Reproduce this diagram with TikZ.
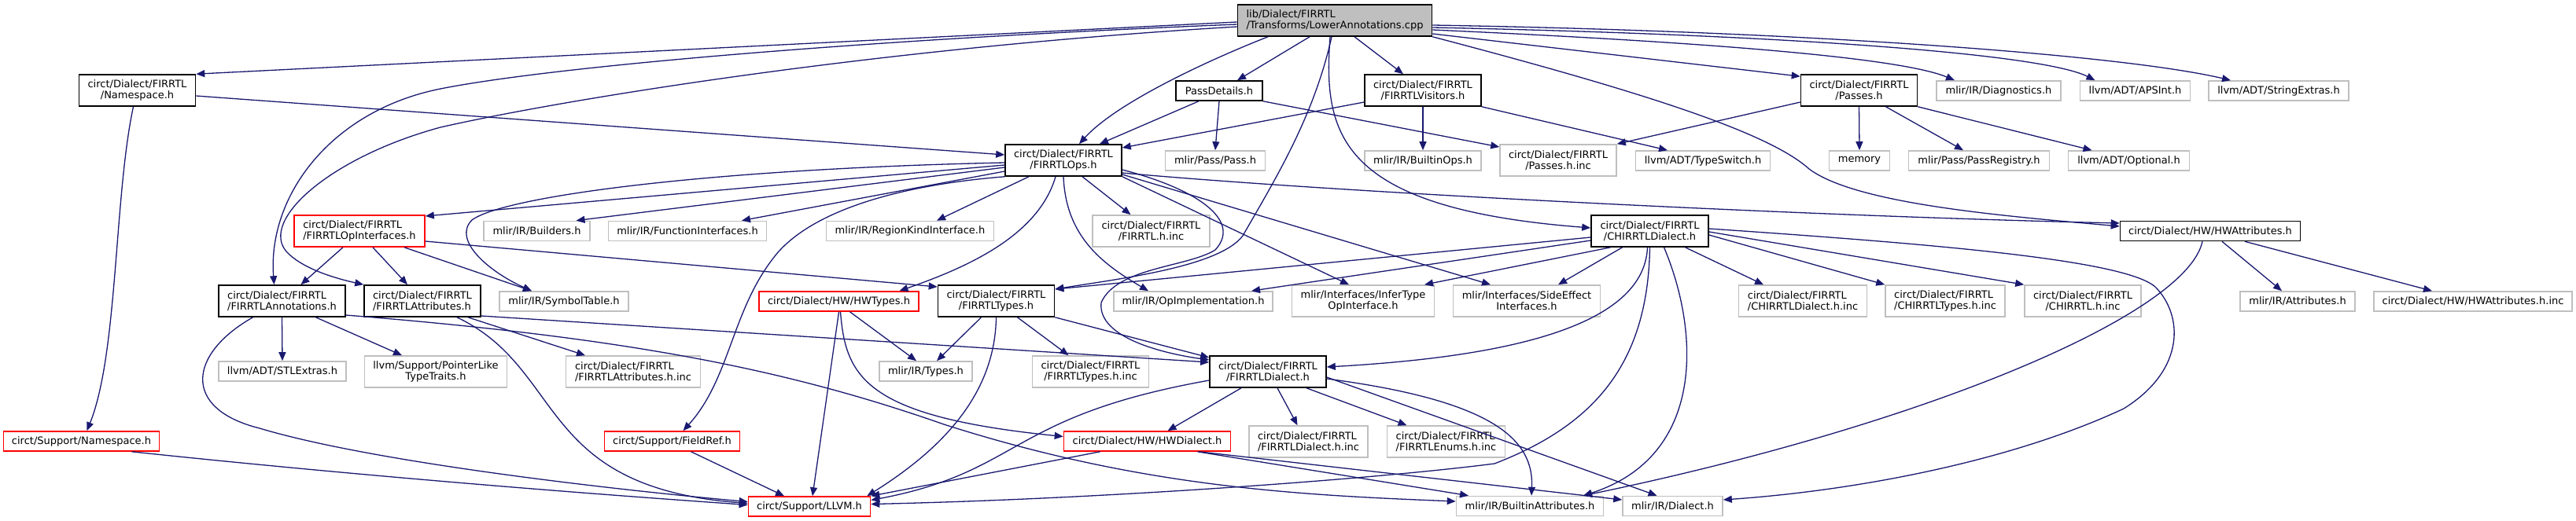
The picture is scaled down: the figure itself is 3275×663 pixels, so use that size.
\documentclass[tikz,border=0pt]{standalone}
\usepackage{fontspec}
\setmainfont{DejaVu Sans}
\usepackage{tikz}
\usetikzlibrary{positioning, arrows.meta, calc}
\usepackage{xcolor}
\definecolor{edgeblue}{HTML}{191970}
\definecolor{extgray}{HTML}{BFBFBF}

\begin{document}
\begin{tikzpicture}[
    x=1pt, y=-1pt,
    hdr/.style={draw=black, line width=1.6pt, fill=white, inner sep=0pt, align=center, font=\fontsize{13}{14}\selectfont},
    srcfile/.style={hdr, fill=extgray},
    trunc/.style={hdr, draw=red},
    ext/.style={hdr, draw=extgray},
    one/.style={minimum height=25pt},
    two/.style={minimum height=40pt},
    dep/.style={draw=edgeblue, line width=1.3pt, -{Triangle[length=11pt,width=9pt]}}
]
\useasboundingbox (0,0) rectangle (3275,663);

% Nodes
\node[srcfile, two, minimum width=247pt, align=left] (main) at (1697,26) {lib/Dialect/FIRRTL\\/Transforms/LowerAnnotations.cpp};

\node[hdr, two, minimum width=148pt] (nsF) at (174.5,115) {circt/Dialect/FIRRTL\\/Namespace.h};
\node[hdr, one, minimum width=110pt] (passDet) at (1550,115.5) {PassDetails.h};
\node[hdr, two, minimum width=148pt] (visit) at (1809,115) {circt/Dialect/FIRRTL\\/FIRRTLVisitors.h};
\node[hdr, two, minimum width=148pt] (passes) at (2363.5,115) {circt/Dialect/FIRRTL\\/Passes.h};
\node[ext, one, minimum width=158pt] (diag) at (2541,115.5) {mlir/IR/Diagnostics.h};
\node[ext, one, minimum width=140pt] (apsint) at (2714.5,115.5) {llvm/ADT/APSInt.h};
\node[ext, one, minimum width=178pt] (strext) at (2897,115.5) {llvm/ADT/StringExtras.h};

\node[hdr, two, minimum width=148pt] (ops) at (1352,204) {circt/Dialect/FIRRTL\\/FIRRTLOps.h};
\node[ext, one, minimum width=127pt] (pass) at (1545,204.5) {mlir/Pass/Pass.h};
\node[ext, one, minimum width=148pt] (bops) at (1809,204.5) {mlir/IR/BuiltinOps.h};
\node[ext, two, minimum width=148pt] (pinc) at (1981,204) {circt/Dialect/FIRRTL\\/Passes.h.inc};
\node[ext, one, minimum width=171pt] (tsw) at (2165,204.5) {llvm/ADT/TypeSwitch.h};
\node[ext, one, minimum width=77pt] (memory) at (2364,204.5) {memory};
\node[ext, one, minimum width=179pt] (preg) at (2516,204.5) {mlir/Pass/PassRegistry.h};
\node[ext, one, minimum width=154pt] (optional) at (2706.5,204.5) {llvm/ADT/Optional.h};

\node[trunc, two, minimum width=166pt, align=left] (opif) at (457,294) {circt/Dialect/FIRRTL\\/FIRRTLOpInterfaces.h};
\node[ext, one, minimum width=135pt] (builders) at (682.5,294) {mlir/IR/Builders.h};
\node[ext, one, minimum width=201pt] (funcif) at (874,294) {mlir/IR/FunctionInterfaces.h};
\node[ext, one, minimum width=213pt] (regk) at (1157,294) {mlir/IR/RegionKindInterface.h};
\node[ext, two, minimum width=149pt] (finc) at (1463.5,294) {circt/Dialect/FIRRTL\\/FIRRTL.h.inc};
\node[hdr, two, minimum width=149pt] (chir) at (2097.5,294) {circt/Dialect/FIRRTL\\/CHIRRTLDialect.h};
\node[hdr, one, minimum width=229pt] (hwattr) at (2810,294) {circt/Dialect/HW/HWAttributes.h};

\node[hdr, two, minimum width=161pt, align=left] (annot) at (358.5,383) {circt/Dialect/FIRRTL\\/FIRRTLAnnotations.h};
\node[hdr, two, minimum width=148pt, align=left] (attrs) at (537,383) {circt/Dialect/FIRRTL\\/FIRRTLAttributes.h};
\node[ext, one, minimum width=164pt] (symt) at (717,383.5) {mlir/IR/SymbolTable.h};
\node[trunc, one, minimum width=203pt] (hwtypes) at (1066.5,383.5) {circt/Dialect/HW/HWTypes.h};
\node[hdr, two, minimum width=148pt] (types) at (1266.5,383) {circt/Dialect/FIRRTL\\/FIRRTLTypes.h};
\node[ext, one, minimum width=202pt] (opimpl) at (1517,383.5) {mlir/IR/OpImplementation.h};
\node[ext, two, minimum width=181pt] (infer) at (1733,383) {mlir/Interfaces/InferType\\OpInterface.h};
\node[ext, two, minimum width=187pt] (sidee) at (1941,383) {mlir/Interfaces/SideEffect\\Interfaces.h};
\node[ext, two, minimum width=163pt, align=left] (chdinc) at (2292,383) {circt/Dialect/FIRRTL\\/CHIRRTLDialect.h.inc};
\node[ext, two, minimum width=152pt, align=left] (chtinc) at (2473,383) {circt/Dialect/FIRRTL\\/CHIRRTLTypes.h.inc};
\node[ext, two, minimum width=148pt] (chinc) at (2648,383) {circt/Dialect/FIRRTL\\/CHIRRTL.h.inc};
\node[ext, one, minimum width=146pt] (attributes) at (2921,383.5) {mlir/IR/Attributes.h};
\node[ext, one, minimum width=252pt] (hwainc) at (3144,383.5) {circt/Dialect/HW/HWAttributes.h.inc};

\node[ext, one, minimum width=162pt] (stl) at (359,472.5) {llvm/ADT/STLExtras.h};
\node[ext, two, minimum width=181pt] (ptr) at (554,473) {llvm/Support/PointerLike\\TypeTraits.h};
\node[ext, two, minimum width=171pt, align=left] (ainc) at (805,473) {circt/Dialect/FIRRTL\\/FIRRTLAttributes.h.inc};
\node[ext, one, minimum width=118pt] (mtypes) at (1177,472.5) {mlir/IR/Types.h};
\node[ext, two, minimum width=148pt] (tinc) at (1386.5,473) {circt/Dialect/FIRRTL\\/FIRRTLTypes.h.inc};
\node[hdr, two, minimum width=148pt] (dial) at (1612,473) {circt/Dialect/FIRRTL\\/FIRRTLDialect.h};

\node[trunc, one, minimum width=198pt] (supns) at (103.5,561.5) {circt/Support/Namespace.h};
\node[trunc, one, minimum width=172pt] (fref) at (854.5,561.5) {circt/Support/FieldRef.h};
\node[trunc, one, minimum width=212pt] (hwdial) at (1458.5,561.5) {circt/Dialect/HW/HWDialect.h};
\node[ext, two, minimum width=151pt, align=left] (dinc) at (1663.5,562) {circt/Dialect/FIRRTL\\/FIRRTLDialect.h.inc};
\node[ext, two, minimum width=150pt, align=left] (einc) at (1838.5,562) {circt/Dialect/FIRRTL\\/FIRRTLEnums.h.inc};

\node[trunc, one, minimum width=155pt] (llvm) at (1029,644.5) {circt/Support/LLVM.h};
\node[ext, one, minimum width=187pt] (battr) at (1945,644) {mlir/IR/BuiltinAttributes.h};
\node[ext, one, minimum width=127pt] (mdial) at (2126.5,644) {mlir/IR/Dialect.h};

% Edges from the source file
\draw[dep] ([yshift=-2]main.west) -- (nsF.north east);
\draw[dep] ([yshift=-5]main.west) .. controls (1100,50) and (700,85) .. (560,113) .. controls (420,141) and (340,250) .. ([xshift=-10]annot.north);
\draw[dep] ([yshift=-8]main.west) .. controls (1100,62) and (700,130) .. (560,162) .. controls (420,200) and (330,280) .. (364,320) .. controls (385,343) and (430,355) .. (attrs.north west);
\draw[dep] ([xshift=-85]main.south) .. controls (1540,75) and (1420,130) .. ([xshift=20]ops.north);
\draw[dep] ([xshift=-32]main.south) -- ([xshift=23]passDet.north);
\draw[dep] ([xshift=25]main.south) -- ([xshift=-25]visit.north);
\draw[dep] ([xshift=-6]main.south) .. controls (1682,170) and (1700,265) .. ([yshift=4]chir.west);
\draw[dep] ([xshift=-4]main.south) .. controls (1670,150) and (1620,230) .. (1580,300) .. controls (1550,340) and (1420,355) .. ([yshift=15]types.east);
\draw[dep] ([yshift=-17]main.east) -- ([yshift=-3]passes.north west);
\draw[dep] ([yshift=-12]main.east) .. controls (2200,55) and (2420,75) .. ([xshift=-56]diag.north);
\draw[dep] ([yshift=-9]main.east) .. controls (2300,45) and (2600,70) .. ([xshift=-51]apsint.north);
\draw[dep] ([yshift=-6]main.east) .. controls (2300,40) and (2700,70) .. ([xshift=-61]strext.north);
\draw[dep] (main.south east) .. controls (2100,120) and (2250,170) .. (2300,215) .. controls (2360,260) and (2550,275) .. ([yshift=6]hwattr.west);

% Second row
\draw[dep] ([yshift=-7]nsF.east) -- ([yshift=7]ops.west);
\draw[dep] ([xshift=-5]nsF.south) .. controls (145,250) and (150,450) .. ([xshift=7]supns.north);
\draw[dep] ([xshift=-26]passDet.south) -- ([xshift=46]ops.north);
\draw[dep] (passDet.south) -- (pass.north);
\draw[dep] (passDet.south east) -- ([yshift=17]pinc.west);
\draw[dep] ([yshift=-15]visit.west) -- ([yshift=16]ops.east);
\draw[dep] (visit.south) -- (bops.north);
\draw[dep] (visit.south east) -- ([xshift=-45]tsw.north);
\draw[dep] ([yshift=-15]passes.west) -- (pinc.north east);
\draw[dep] (passes.south) -- (memory.north);
\draw[dep] ([xshift=34]passes.south) -- ([xshift=-20]preg.north);
\draw[dep] (passes.south east) -- ([xshift=-47]optional.north);

% FIRRTLOps.h
\draw[dep] ([yshift=-6]ops.west) -- ([yshift=19]opif.east);
\draw[dep] ([yshift=-9]ops.west) -- ([xshift=50]builders.north);
\draw[dep] ([yshift=-14]ops.west) -- ([xshift=69]funcif.north);
\draw[dep] ([yshift=-3]ops.west) .. controls (900,215) and (640,250) .. (600,280) .. controls (575,305) and (620,345) .. ([xshift=-41]symt.north);
\draw[dep] ([xshift=-44]ops.south) -- ([xshift=34]regk.north);
\draw[dep] ([xshift=-10]ops.south) .. controls (1320,300) and (1230,340) .. ([xshift=77]hwtypes.north);
\draw[dep] (ops.south west) .. controls (1150,235) and (1040,265) .. (990,320) .. controls (930,390) and (930,480) .. ([xshift=14]fref.north);
\draw[dep] ([xshift=24]ops.south) -- ([xshift=-26]finc.north);
\draw[dep] (ops.south) .. controls (1355,300) and (1400,335) .. ([xshift=-57]opimpl.north);
\draw[dep] ([yshift=-16]ops.east) .. controls (1700,245) and (2300,275) .. ([yshift=10]hwattr.west);
\draw[dep] ([yshift=-18]ops.east) -- ([xshift=-46]sidee.north);
\draw[dep] (ops.south east) -- ([xshift=-18]infer.north);
\draw[dep] ([yshift=-12]ops.east) .. controls (1520,240) and (1580,280) .. (1545,318) .. controls (1510,340) and (1420,340) .. (1400,385) .. controls (1395,430) and (1480,450) .. ([yshift=15]dial.west);

% FIRRTLOpInterfaces.h
\draw[dep] ([xshift=-21]opif.south) -- ([xshift=24]annot.north);
\draw[dep] ([xshift=17]opif.south) -- ([xshift=-19]attrs.north);
\draw[dep] ([xshift=57]opif.south) -- ([xshift=-41]symt.north);
\draw[dep] ([yshift=-13]opif.east) -- ([yshift=18]types.west);

% FIRRTLAnnotations.h, FIRRTLAttributes.h
\draw[dep] (annot.south) -- (stl.north);
\draw[dep] ([xshift=43]annot.south) -- ([xshift=-43]ptr.north);
\draw[dep] ([xshift=-37]annot.south) .. controls (240,450) and (230,520) .. (330,545) .. controls (480,590) and (800,625) .. ([yshift=6]llvm.west);
\draw[dep] ([yshift=-18]annot.east) .. controls (800,430) and (1000,470) .. (1200,540) .. controls (1450,620) and (1650,630) .. ([yshift=6]battr.west);
\draw[dep] ([xshift=58]attrs.south) -- ([xshift=-61]ainc.north);
\draw[dep] ([xshift=44]attrs.south) .. controls (720,470) and (680,620) .. ([yshift=4]llvm.west);
\draw[dep] ([yshift=-19]attrs.east) -- ([yshift=12]dial.west);

% FIRRTLTypes.h, HWTypes.h
\draw[dep] ([xshift=-19]types.south) -- ([xshift=14]mtypes.north);
\draw[dep] ([xshift=27]types.south) -- ([xshift=-28]tinc.north);
\draw[dep] (types.south east) -- ([yshift=18]dial.west);
\draw[dep] (types.south) .. controls (1265,500) and (1200,570) .. ([xshift=-5]llvm.north east);
\draw[dep] ([xshift=14]hwtypes.south) -- ([xshift=-12]mtypes.north);
\draw[dep] (hwtypes.south) -- ([xshift=4]llvm.north);
\draw[dep] ([xshift=2]hwtypes.south) .. controls (1075,480) and (1100,530) .. ([yshift=6]hwdial.west);

% FIRRTLDialect.h, HWDialect.h
\draw[dep] ([yshift=-11]dial.west) .. controls (1280,530) and (1300,600) .. ([yshift=8]llvm.east);
\draw[dep] ([xshift=-34]dial.south) -- ([xshift=26]hwdial.north);
\draw[dep] ([xshift=12]dial.south) -- ([xshift=-14]dinc.north);
\draw[dep] ([xshift=49]dial.south) -- ([xshift=-50]einc.north);
\draw[dep] ([yshift=-9]dial.east) .. controls (1900,510) and (1950,560) .. ([xshift=2]battr.north);
\draw[dep] ([yshift=-7]dial.east) -- ([xshift=-20]mdial.north);
\draw[dep] ([xshift=-60]hwdial.south) -- (llvm.north east);
\draw[dep] ([xshift=64]hwdial.south) -- ([xshift=-78]battr.north);
\draw[dep] ([xshift=66]hwdial.south) -- ([yshift=8]mdial.west);

% Support headers
\draw[dep] ([xshift=24]fref.south) -- ([xshift=-32]llvm.north);
\draw[dep] ([xshift=64]supns.south) .. controls (500,610) and (800,632) .. ([yshift=2]llvm.west);

% CHIRRTLDialect.h
\draw[dep] ([yshift=-8]chir.west) -- ([yshift=15]types.east);
\draw[dep] ([yshift=-12]chir.west) -- ([xshift=74]opimpl.north);
\draw[dep] ([xshift=-50]chir.south) -- ([xshift=78]infer.north);
\draw[dep] ([xshift=-35]chir.south) -- ([xshift=40]sidee.north);
\draw[dep] ([xshift=-3]chir.south) .. controls (2090,420) and (1900,455) .. ([yshift=6]dial.east);
\draw[dep] (chir.south) .. controls (2095,460) and (2030,540) .. (1900,590) .. controls (1744,610) and (1400,635) .. ([yshift=3]llvm.east);
\draw[dep] ([xshift=18]chir.south) .. controls (2160,420) and (2170,580) .. ([xshift=68]battr.north);
\draw[dep] ([xshift=45]chir.south) -- ([xshift=-50]chdinc.north);
\draw[dep] ([yshift=-5]chir.east) -- (chtinc.north west);
\draw[dep] ([yshift=-1]chir.east) -- (chinc.north west);
\draw[dep] ([yshift=3]chir.east) .. controls (2450,310) and (2700,330) .. (2740,365) .. controls (2775,400) and (2780,470) .. (2700,520) .. controls (2550,590) and (2350,625) .. ([yshift=8]mdial.east);

% HWAttributes.h
\draw[dep] ([xshift=-10]hwattr.south) .. controls (2780,400) and (2450,540) .. ([xshift=68]battr.north);
\draw[dep] ([xshift=15]hwattr.south) -- ([xshift=-20]attributes.north);
\draw[dep] ([xshift=44]hwattr.south) -- ([xshift=-52]hwainc.north);

\end{tikzpicture}
\end{document}
